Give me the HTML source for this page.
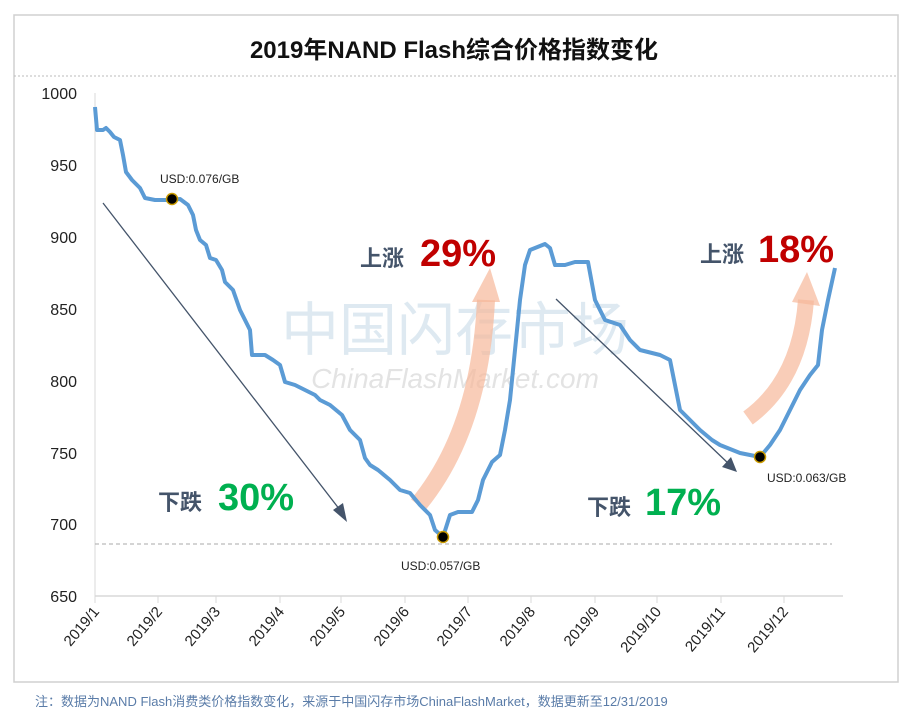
<!DOCTYPE html>
<html><head><meta charset="utf-8"><style>
body{margin:0;background:#fff;}
svg{display:block;font-family:"Liberation Sans","Noto Sans CJK SC",sans-serif;}
</style></head><body>
<svg width="908" height="720" viewBox="0 0 908 720">
<rect x="14" y="15" width="884" height="667" fill="#fff" stroke="#d0d0d0" stroke-width="1.5"/>
<text x="454" y="58" text-anchor="middle" font-size="24" font-weight="bold" fill="#111">2019年NAND Flash综合价格指数变化</text>
<line x1="14" y1="76" x2="898" y2="76" stroke="#bbb" stroke-dasharray="2,2"/>
<!-- y axis -->
<g font-size="16" fill="#222" text-anchor="end">
<text x="77" y="99">1000</text><text x="77" y="171">950</text><text x="77" y="243">900</text>
<text x="77" y="315">850</text><text x="77" y="387">800</text><text x="77" y="459">750</text>
<text x="77" y="530">700</text><text x="77" y="602">650</text>
</g>
<line x1="95" y1="93" x2="95" y2="596" stroke="#d8d8d8"/>
<line x1="95" y1="596" x2="843" y2="596" stroke="#d8d8d8" stroke-width="1.5"/>
<g stroke="#d8d8d8"><line x1="95" y1="596" x2="95" y2="603"/><line x1="158" y1="596" x2="158" y2="603"/><line x1="216" y1="596" x2="216" y2="603"/><line x1="280" y1="596" x2="280" y2="603"/><line x1="341" y1="596" x2="341" y2="603"/><line x1="405" y1="596" x2="405" y2="603"/><line x1="468" y1="596" x2="468" y2="603"/><line x1="531" y1="596" x2="531" y2="603"/><line x1="595" y1="596" x2="595" y2="603"/><line x1="657" y1="596" x2="657" y2="603"/><line x1="721" y1="596" x2="721" y2="603"/><line x1="784" y1="596" x2="784" y2="603"/></g>
<g font-size="15" fill="#222" text-anchor="end">
<text transform="translate(100,612) rotate(-50)">2019/1</text>
<text transform="translate(163,612) rotate(-50)">2019/2</text>
<text transform="translate(221,612) rotate(-50)">2019/3</text>
<text transform="translate(285,612) rotate(-50)">2019/4</text>
<text transform="translate(346,612) rotate(-50)">2019/5</text>
<text transform="translate(410,612) rotate(-50)">2019/6</text>
<text transform="translate(473,612) rotate(-50)">2019/7</text>
<text transform="translate(536,612) rotate(-50)">2019/8</text>
<text transform="translate(600,612) rotate(-50)">2019/9</text>
<text transform="translate(662,612) rotate(-50)">2019/10</text>
<text transform="translate(726,612) rotate(-50)">2019/11</text>
<text transform="translate(789,612) rotate(-50)">2019/12</text>
</g>
<line x1="95" y1="544" x2="832" y2="544" stroke="#aaa" stroke-dasharray="4,3"/>
<!-- watermark -->
<text x="455" y="350" text-anchor="middle" font-size="58" fill="#c9dce9" opacity="0.6">中国闪存市场</text>
<text x="455" y="388" text-anchor="middle" font-size="28" font-style="italic" fill="#d8d8d8" opacity="0.7">ChinaFlashMarket.com</text>
<!-- orange arrows -->
<path d="M418,505 Q480,430 486,300" stroke="#f6b89a" stroke-width="18" fill="none" opacity="0.7"/>
<polygon points="472,302 500,302 490,268" fill="#f6b89a" opacity="0.7"/>
<path d="M748,418 Q800,380 806,300" stroke="#f6b89a" stroke-width="16" fill="none" opacity="0.7"/>
<polygon points="792,302 820,306 807,272" fill="#f6b89a" opacity="0.7"/>
<!-- dark arrows -->
<line x1="103" y1="203" x2="340" y2="510" stroke="#44546a" stroke-width="1.3"/>
<polygon points="333,510 347,522 343,503" fill="#44546a"/>
<line x1="556" y1="299" x2="730" y2="465" stroke="#44546a" stroke-width="1.3"/>
<polygon points="722,467 737,472 731,457" fill="#44546a"/>
<!-- series -->
<polyline fill="none" stroke="#5b9bd5" stroke-width="4" stroke-linejoin="round" points="95,107 97,130 103,130 106,128 110,132 114,137 120,140 123,155 126,172 132,180 140,188 145,198 155,200 170,200 180,199 188,205 193,215 196,230 200,240 206,245 210,258 216,260 222,270 225,282 233,290 240,310 250,330 252,355 265,355 273,360 280,365 285,382 295,385 305,390 315,395 320,400 330,405 342,415 350,430 360,440 365,458 370,465 378,470 390,480 400,490 410,493 420,505 430,515 435,530 443,537 450,515 458,512 472,512 478,500 483,480 492,462 500,455 505,430 510,400 515,350 520,300 525,265 530,250 545,244 550,248 555,265 565,265 575,262 588,262 595,300 605,320 620,325 630,340 640,350 660,355 670,360 675,385 680,410 690,420 700,430 712,440 720,445 740,453 760,457 770,445 780,430 790,410 800,390 810,375 818,365 822,330 828,300 835,268"/>
<g fill="#000" stroke="#c99a00" stroke-width="1.5">
<circle cx="172" cy="199" r="5.5"/><circle cx="443" cy="537" r="5.5"/><circle cx="760" cy="457" r="5.5"/></g>
<g font-size="12" fill="#222">
<text x="160" y="183">USD:0.076/GB</text>
<text x="401" y="570">USD:0.057/GB</text>
<text x="767" y="482">USD:0.063/GB</text>
</g>
<g font-weight="bold">
<text x="360" y="266" font-size="22" fill="#44546a">上涨</text><text x="420" y="266" font-size="38" fill="#c00000">29%</text>
<text x="700" y="262" font-size="22" fill="#44546a">上涨</text><text x="758" y="262" font-size="38" fill="#c00000">18%</text>
<text x="158" y="510" font-size="22" fill="#44546a">下跌</text><text x="218" y="510" font-size="38" fill="#00b050">30%</text>
<text x="587" y="515" font-size="22" fill="#44546a">下跌</text><text x="645" y="515" font-size="38" fill="#00b050">17%</text>
</g>
<text x="35" y="706" font-size="13" fill="#5a7ca8">注：数据为NAND Flash消费类价格指数变化，来源于中国闪存市场ChinaFlashMarket，数据更新至12/31/2019</text>
</svg>
</body></html>
